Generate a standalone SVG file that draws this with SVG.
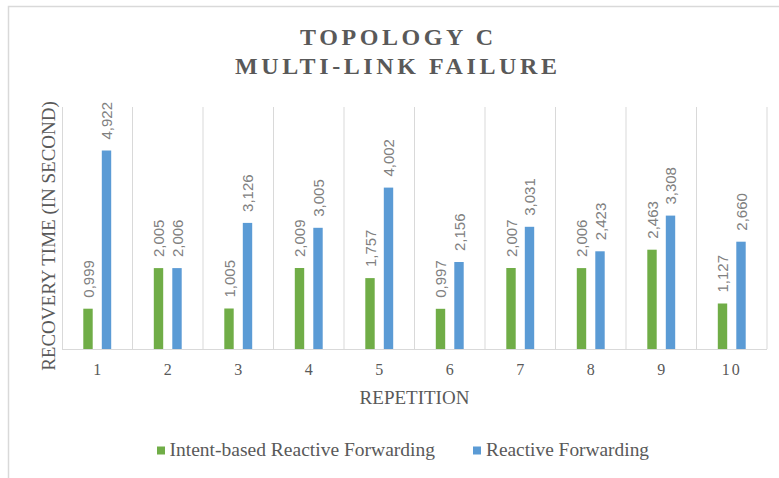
<svg xmlns="http://www.w3.org/2000/svg" width="779" height="478" viewBox="0 0 779 478">
  <style>
    .frame { stroke: #d9d9d9; stroke-width: 1.5; fill: none; }
    .grid { stroke: #d9d9d9; stroke-width: 1; }
    .title { font-family: "Liberation Serif", serif; font-weight: bold; font-size: 24px; fill: #595959; letter-spacing: 3.6px; }
    .axis { font-family: "Liberation Serif", serif; font-size: 19px; fill: #595959; }
    .cat { font-family: "Liberation Serif", serif; font-size: 16px; fill: #595959; text-anchor: middle; }
    .legend { font-family: "Liberation Serif", serif; font-size: 18px; fill: #595959; }
    .val { font-family: "Liberation Sans", sans-serif; font-size: 15px; fill: #808080; }
    .g { fill: #70ad47; }
    .b { fill: #5b9bd5; }
  </style>

  <!-- chart frame -->
  <path class="frame" d="M8.5 478 V6.5 H779"/>

  <!-- title -->
  <g id="title">
    <text class="title" x="300" y="45">TOPOLOGY C</text>
    <text class="title" x="235" y="74">MULTI-LINK FAILURE</text>
  </g>

  <!-- plot area gridlines and baseline -->
  <g id="grid">
    <path class="grid" d="M62.5 107 V349 M132.5 107 V349 M203 107 V349 M273.5 107 V349 M344 107 V349 M414.5 107 V349 M485 107 V349 M555.5 107 V349 M626 107 V349 M696.5 107 V349 M767 107 V349"/>
    <path class="grid" d="M62 349.5 H767"/>
  </g>

  <!-- axis titles -->
  <g id="axis-titles">
    <text class="axis" transform="translate(55,236) rotate(-90)" text-anchor="middle">RECOVERY TIME (IN SECOND)</text>
    <text class="axis" x="414.5" y="404" text-anchor="middle">REPETITION</text>
  </g>

  <!-- category labels -->
  <g id="categories">
    <text class="cat" x="97.25" y="375">1</text>
    <text class="cat" x="167.75" y="375">2</text>
    <text class="cat" x="238.25" y="375">3</text>
    <text class="cat" x="308.75" y="375">4</text>
    <text class="cat" x="379.25" y="375">5</text>
    <text class="cat" x="449.75" y="375">6</text>
    <text class="cat" x="520.25" y="375">7</text>
    <text class="cat" x="590.75" y="375">8</text>
    <text class="cat" x="661.25" y="375">9</text>
    <text class="cat" x="731.75" y="375" letter-spacing="2">10</text>
  </g>

  <!-- Intent-based Reactive Forwarding series -->
  <g id="series-intent">
    <rect class="g" x="83.3" y="308.7" width="9.4" height="40.3"/>
    <rect class="g" x="153.8" y="268.1" width="9.4" height="80.9"/>
    <rect class="g" x="224.3" y="308.5" width="9.4" height="40.5"/>
    <rect class="g" x="294.8" y="268" width="9.4" height="81"/>
    <rect class="g" x="365.3" y="278.1" width="9.4" height="70.9"/>
    <rect class="g" x="435.8" y="308.8" width="9.4" height="40.2"/>
    <rect class="g" x="506.3" y="268" width="9.4" height="81"/>
    <rect class="g" x="576.8" y="268.1" width="9.4" height="80.9"/>
    <rect class="g" x="647.3" y="249.7" width="9.4" height="99.3"/>
    <rect class="g" x="717.8" y="303.5" width="9.4" height="45.5"/>
    <text class="val" transform="translate(93.5,297.7) rotate(-90)">0,999</text>
    <text class="val" transform="translate(164,257.1) rotate(-90)">2,005</text>
    <text class="val" transform="translate(234.5,297.5) rotate(-90)">1,005</text>
    <text class="val" transform="translate(305,257) rotate(-90)">2,009</text>
    <text class="val" transform="translate(375.5,267.1) rotate(-90)">1,757</text>
    <text class="val" transform="translate(446,297.8) rotate(-90)">0,997</text>
    <text class="val" transform="translate(516.5,257) rotate(-90)">2,007</text>
    <text class="val" transform="translate(587,257.1) rotate(-90)">2,006</text>
    <text class="val" transform="translate(657.5,238.7) rotate(-90)">2,463</text>
    <text class="val" transform="translate(728,292.5) rotate(-90)">1,127</text>
  </g>

  <!-- Reactive Forwarding series -->
  <g id="series-reactive">
    <rect class="b" x="101.8" y="150.5" width="9.4" height="198.5"/>
    <rect class="b" x="172.3" y="268.1" width="9.4" height="80.9"/>
    <rect class="b" x="242.8" y="222.9" width="9.4" height="126.1"/>
    <rect class="b" x="313.3" y="227.8" width="9.4" height="121.2"/>
    <rect class="b" x="383.8" y="187.6" width="9.4" height="161.4"/>
    <rect class="b" x="454.3" y="262" width="9.4" height="87"/>
    <rect class="b" x="524.8" y="226.8" width="9.4" height="122.2"/>
    <rect class="b" x="595.3" y="251.3" width="9.4" height="97.7"/>
    <rect class="b" x="665.8" y="215.6" width="9.4" height="133.4"/>
    <rect class="b" x="736.3" y="241.7" width="9.4" height="107.3"/>
    <text class="val" transform="translate(112,139.5) rotate(-90)">4,922</text>
    <text class="val" transform="translate(182.5,257.1) rotate(-90)">2,006</text>
    <text class="val" transform="translate(253,211.9) rotate(-90)">3,126</text>
    <text class="val" transform="translate(323.5,216.8) rotate(-90)">3,005</text>
    <text class="val" transform="translate(394,176.6) rotate(-90)">4,002</text>
    <text class="val" transform="translate(464.5,251) rotate(-90)">2,156</text>
    <text class="val" transform="translate(535,215.8) rotate(-90)">3,031</text>
    <text class="val" transform="translate(605.5,240.3) rotate(-90)">2,423</text>
    <text class="val" transform="translate(676,204.6) rotate(-90)">3,308</text>
    <text class="val" transform="translate(746.5,230.7) rotate(-90)">2,660</text>
  </g>

  <!-- legend -->
  <g id="legend">
    <rect class="g" x="157" y="446.5" width="8" height="8"/>
    <text class="legend" x="169.5" y="456" textLength="265.5" lengthAdjust="spacingAndGlyphs">Intent-based Reactive Forwarding</text>
    <rect class="b" x="473" y="446.5" width="8" height="8"/>
    <text class="legend" x="486" y="456" textLength="163" lengthAdjust="spacingAndGlyphs">Reactive Forwarding</text>
  </g>
</svg>
